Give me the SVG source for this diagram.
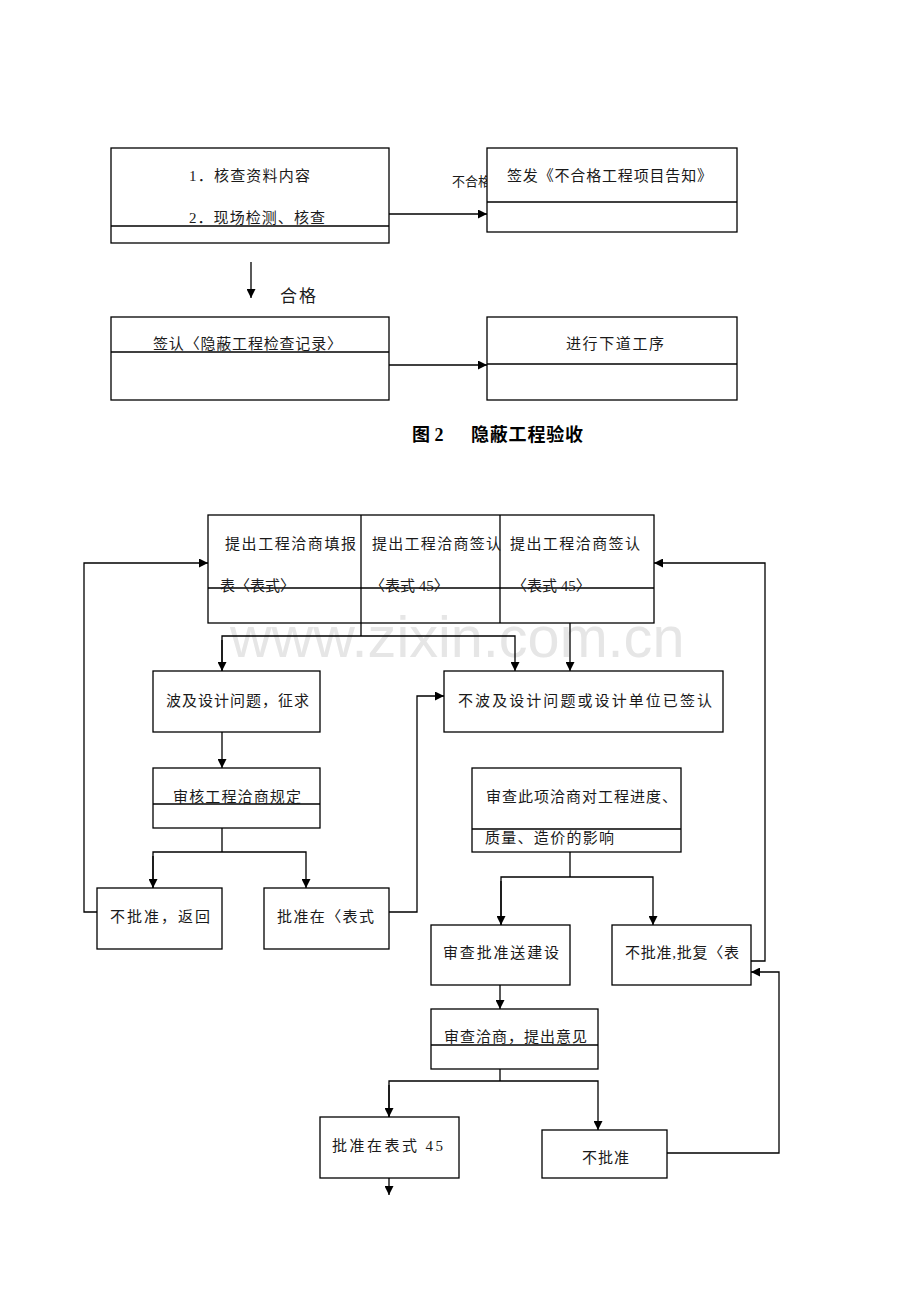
<svg xmlns="http://www.w3.org/2000/svg" width="920" height="1302" viewBox="0 0 920 1302">
<style>
.box{fill:#fff;stroke:#000;stroke-width:1.3}
.ln{fill:none;stroke:#000;stroke-width:1.3}
.t{font-family:"Liberation Serif","Noto Sans CJK SC",serif;font-size:15px;fill:#1a1a1a}
.cap{font-family:"Liberation Serif","Noto Sans CJK SC",serif;font-size:18px;font-weight:bold;fill:#000}
.wm{font-family:"Liberation Sans",Arial,sans-serif;font-size:57.6px;fill:#e6e6e6}
</style>
<defs>
<marker id="ah" viewBox="0 0 10 10" refX="10" refY="5" markerWidth="9" markerHeight="9" markerUnits="userSpaceOnUse" orient="auto">
<path d="M0,0 L10,5 L0,10 z" fill="#000"/>
</marker>
</defs>
<rect width="920" height="1302" fill="#fff"/>

<text x="452" y="186" style="font-family:'Liberation Serif','Noto Sans CJK SC',serif;font-size:13px;fill:#1a1a1a" textLength="39" lengthAdjust="spacing">不合格</text>

<g id="nA">
<rect class="box" x="111" y="148" width="278" height="95"/>
<line class="ln" x1="111" y1="226" x2="389" y2="226"/>
<text class="t" x="189" y="181" textLength="121" lengthAdjust="spacing">1．核查资料内容</text>
<text class="t" x="189" y="223" textLength="136" lengthAdjust="spacing">2．现场检测、核查</text>
</g>
<g id="nB">
<rect class="box" x="487" y="148" width="250" height="84"/>
<line class="ln" x1="487" y1="202" x2="737" y2="202"/>
<text class="t" x="507" y="181" textLength="205" lengthAdjust="spacing">签发《不合格工程项目告知》</text>
</g>
<text x="280" y="302" style="font-family:'Liberation Serif','Noto Sans CJK SC',serif;font-size:17px;fill:#1a1a1a" textLength="36" lengthAdjust="spacing">合格</text>
<g id="nC">
<rect class="box" x="111" y="317" width="278" height="83"/>
<line class="ln" x1="111" y1="352" x2="389" y2="352"/>
<text class="t" x="153" y="349" textLength="189" lengthAdjust="spacing">签认〈隐蔽工程检查记录〉</text>
</g>
<g id="nD">
<rect class="box" x="487" y="317" width="250" height="83"/>
<line class="ln" x1="487" y1="364" x2="737" y2="364"/>
<text class="t" x="566" y="349" textLength="98" lengthAdjust="spacing">进行下道工序</text>
</g>
<g id="caption">
<text class="cap" x="412" y="441">图 2</text>
<text class="cap" x="471" y="441" textLength="112" lengthAdjust="spacing">隐蔽工程验收</text>
</g>

<g id="nTop">
<rect class="box" x="208" y="515" width="446" height="108"/>
<line class="ln" x1="361" y1="515" x2="361" y2="623"/>
<line class="ln" x1="500" y1="515" x2="500" y2="623"/>
<line class="ln" x1="208" y1="588" x2="654" y2="588"/>
<text class="t" x="225" y="549" textLength="131" lengthAdjust="spacing">提出工程洽商填报</text>
<text class="t" x="220" y="591">表〈表式〉</text>
<text class="t" x="372" y="549" textLength="129" lengthAdjust="spacing">提出工程洽商签认</text>
<text class="t" x="370" y="591">〈表式 45〉</text>
<text class="t" x="510" y="549" textLength="130" lengthAdjust="spacing">提出工程洽商签认</text>
<text class="t" x="512" y="591">〈表式 45〉</text>
</g>

<text class="wm" x="230" y="657">www.zixin.com.cn</text>

<g id="nWave">
<rect class="box" x="153" y="671" width="167" height="61"/>
<text class="t" x="166" y="706" textLength="143" lengthAdjust="spacing">波及设计问题，征求</text>
</g>
<g id="nNoWave">
<rect class="box" x="444" y="671" width="279" height="61"/>
<text class="t" x="458" y="706" textLength="254" lengthAdjust="spacing">不波及设计问题或设计单位已签认</text>
</g>
<g id="nAudit">
<rect class="box" x="153" y="768" width="167" height="60"/>
<line class="ln" x1="153" y1="804" x2="320" y2="804"/>
<text class="t" x="173" y="802" textLength="128" lengthAdjust="spacing">审核工程洽商规定</text>
</g>
<g id="nReview">
<rect class="box" x="472" y="768" width="209" height="84"/>
<line class="ln" x1="472" y1="829" x2="681" y2="829"/>
<text class="t" x="486" y="802" textLength="191" lengthAdjust="spacing">审查此项洽商对工程进度、</text>
<text class="t" x="485" y="843" textLength="129" lengthAdjust="spacing">质量、造价的影响</text>
</g>
<g id="nReject1">
<rect class="box" x="97" y="888" width="125" height="61"/>
<text class="t" x="110" y="922" textLength="100" lengthAdjust="spacing">不批准，返回</text>
</g>
<g id="nApprove1">
<rect class="box" x="264" y="888" width="125" height="61"/>
<text class="t" x="277" y="922" textLength="97" lengthAdjust="spacing">批准在〈表式</text>
</g>
<g id="nSend">
<rect class="box" x="431" y="925" width="139" height="60"/>
<text class="t" x="443" y="958" textLength="116" lengthAdjust="spacing">审查批准送建设</text>
</g>
<g id="nReject2">
<rect class="box" x="612" y="925" width="139" height="60"/>
<text class="t" x="625" y="958" textLength="114" lengthAdjust="spacing">不批准,批复〈表</text>
</g>
<g id="nOpinion">
<rect class="box" x="431" y="1009" width="167" height="60"/>
<line class="ln" x1="431" y1="1045" x2="598" y2="1045"/>
<text class="t" x="444" y="1042" textLength="143" lengthAdjust="spacing">审查洽商，提出意见</text>
</g>
<g id="nApprove2">
<rect class="box" x="320" y="1117" width="139" height="61"/>
<text class="t" x="332" y="1151" textLength="111" lengthAdjust="spacing">批准在表式 45</text>
</g>
<g id="nReject3">
<rect class="box" x="542" y="1130" width="125" height="48"/>
<text class="t" x="582" y="1163" textLength="47" lengthAdjust="spacing">不批准</text>
</g>

<g id="connectors">
<line class="ln" x1="389" y1="214" x2="487" y2="214" marker-end="url(#ah)"/>
<line class="ln" x1="251" y1="262" x2="251" y2="298" marker-end="url(#ah)"/>
<line class="ln" x1="389" y1="365" x2="487" y2="365" marker-end="url(#ah)"/>
<polyline class="ln" points="361,623 361,636"/>
<polyline class="ln" points="222,671 222,636 515,636 515,671" marker-end="url(#ah)"/>
<line class="ln" x1="222" y1="640" x2="222" y2="671" marker-end="url(#ah)"/>
<line class="ln" x1="570" y1="623" x2="570" y2="671" marker-end="url(#ah)"/>
<line class="ln" x1="222" y1="732" x2="222" y2="768" marker-end="url(#ah)"/>
<polyline class="ln" points="222,828 222,852"/>
<polyline class="ln" points="153,888 153,852 306,852 306,888" marker-end="url(#ah)"/>
<line class="ln" x1="153" y1="856" x2="153" y2="888" marker-end="url(#ah)"/>
<polyline class="ln" points="97,912 84,912 84,563 208,563" marker-end="url(#ah)"/>
<polyline class="ln" points="389,912 417,912 417,696 444,696" marker-end="url(#ah)"/>
<polyline class="ln" points="570,852 570,877"/>
<polyline class="ln" points="501,925 501,877 653,877 653,925" marker-end="url(#ah)"/>
<line class="ln" x1="501" y1="881" x2="501" y2="925" marker-end="url(#ah)"/>
<polyline class="ln" points="751,961 765,961 765,563 654,563" marker-end="url(#ah)"/>
<line class="ln" x1="500" y1="985" x2="500" y2="1009" marker-end="url(#ah)"/>
<polyline class="ln" points="500,1069 500,1081"/>
<polyline class="ln" points="389,1117 389,1081 598,1081 598,1130" marker-end="url(#ah)"/>
<line class="ln" x1="389" y1="1085" x2="389" y2="1117" marker-end="url(#ah)"/>
<polyline class="ln" points="667,1153 779,1153 779,972 751,972" marker-end="url(#ah)"/>
<line class="ln" x1="389" y1="1178" x2="389" y2="1195" marker-end="url(#ah)"/>
</g>
</svg>
